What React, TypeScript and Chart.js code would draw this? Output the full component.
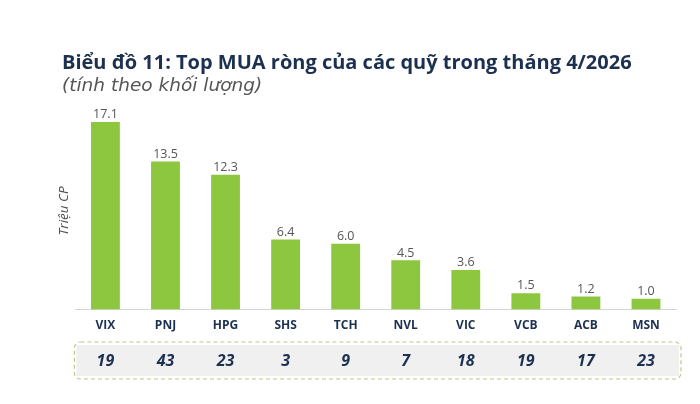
import { useEffect, useRef } from 'react';
import { Chart, registerables, Plugin } from 'chart.js';

Chart.register(...registerables);

// Khối lượng mua ròng (triệu CP)
const tickers = ['VIX', 'PNJ', 'HPG', 'SHS', 'TCH', 'NVL', 'VIC', 'VCB', 'ACB', 'MSN'];
const netBuyVolume = [17.1, 13.5, 12.3, 6.4, 6.0, 4.5, 3.6, 1.5, 1.2, 1.0];
// Số quỹ mua ròng
const fundCounts = [19, 43, 23, 3, 9, 7, 18, 19, 17, 23];

const FONT = '"Open Sans", "Noto Sans", sans-serif';
const NAVY = '#1c3050';

// value labels on top of bars
const valueLabels: Plugin<'bar'> = {
  id: 'valueLabels',
  afterDatasetsDraw(chart) {
    const { ctx } = chart;
    const meta = chart.getDatasetMeta(0);
    ctx.save();
    ctx.font = `12.5px ${FONT}`;
    ctx.fillStyle = '#555555';
    ctx.textAlign = 'center';
    ctx.textBaseline = 'bottom';
    meta.data.forEach((bar, i) => {
      ctx.fillText(netBuyVolume[i].toFixed(1), bar.x, bar.y - 1);
    });
    ctx.restore();
  },
};

// dashed box with fund counts under the category labels
const fundRow: Plugin<'bar'> = {
  id: 'fundRow',
  afterDraw(chart) {
    const { ctx, chartArea } = chart;
    const xScale = chart.scales.x;
    const left = chartArea.left - 1;
    const right = chartArea.right + 5;
    const top = 342;
    const bottom = 379;
    ctx.save();
    ctx.fillStyle = '#f0f0f0';
    ctx.fillRect(left + 2, top + 3, right - left - 4, bottom - top - 6);
    ctx.setLineDash([4, 3]);
    ctx.strokeStyle = '#b9c98f';
    ctx.lineWidth = 1.2;
    ctx.beginPath();
    ctx.roundRect(left, top, right - left, bottom - top, 6);
    ctx.stroke();
    ctx.setLineDash([]);
    ctx.font = `italic bold 16px ${FONT}`;
    ctx.fillStyle = NAVY;
    ctx.textAlign = 'center';
    ctx.textBaseline = 'middle';
    fundCounts.forEach((n, i) => {
      ctx.fillText(String(n), xScale.getPixelForValue(i), 361);
    });
    ctx.restore();
  },
};

export default function App() {
  const canvasRef = useRef<HTMLCanvasElement>(null);
  const chartRef = useRef<Chart | null>(null);

  useEffect(() => {
    document.body.style.margin = '0';
    if (!canvasRef.current) return;
    if (chartRef.current) chartRef.current.destroy();

    chartRef.current = new Chart(canvasRef.current, {
      type: 'bar',
      data: {
        labels: tickers,
        datasets: [{
          data: netBuyVolume,
          backgroundColor: '#8dc63f',
          barPercentage: 0.48,
          categoryPercentage: 1,
        }],
      },
      options: {
        responsive: false,
        animation: false,
        layout: { padding: { top: 51, left: 62, right: 24, bottom: 62 } },
        plugins: {
          legend: { display: false },
          tooltip: { enabled: false },
          title: {
            display: true,
            text: 'Biểu đồ 11: Top MUA ròng của các quỹ trong tháng 4/2026',
            align: 'start',
            color: NAVY,
            font: { family: FONT, size: 20, weight: 'bold' },
            padding: { top: 0, bottom: 0 },
          },
          subtitle: {
            display: true,
            text: '(tính theo khối lượng)',
            align: 'start',
            color: '#555555',
            font: { family: '"DejaVu Sans", sans-serif', size: 18.5, style: 'italic' },
            padding: { top: 0, bottom: 15 },
          },
        },
        scales: {
          x: {
            grid: { display: false, drawTicks: false },
            border: { color: '#d4d4d4', width: 1 },
            ticks: {
              color: NAVY,
              padding: 9,
              font: { family: FONT, size: 12, weight: 'bold' },
            },
          },
          y: {
            min: 0,
            max: 18,
            grid: { display: false, drawTicks: false },
            border: { display: false },
            ticks: { display: false },
            title: {
              display: true,
              text: 'Triệu CP',
              color: '#4d4d4d',
              font: { family: FONT, size: 13.5, style: 'italic' },
              padding: { top: -6.1, bottom: 3.3 },
            },
          },
        },
      },
      plugins: [valueLabels, fundRow],
    });

    return () => {
      if (chartRef.current) {
        chartRef.current.destroy();
        chartRef.current = null;
      }
    };
  }, []);

  return (
    <div style={{ width: 700, height: 404, background: '#ffffff' }}>
      <canvas ref={canvasRef} width={700} height={404}></canvas>
    </div>
  );
}
